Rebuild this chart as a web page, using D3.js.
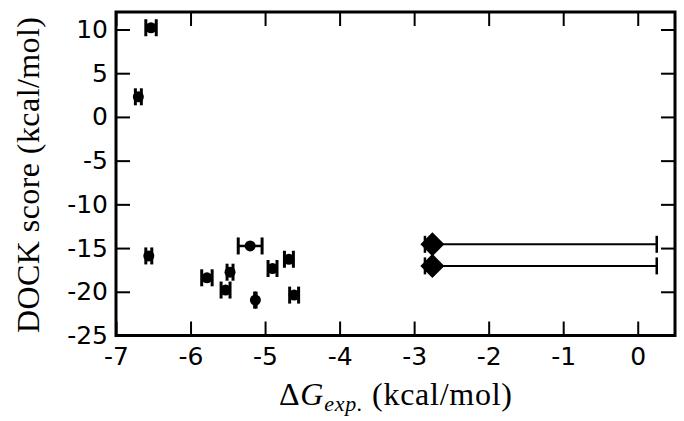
<!DOCTYPE html>
<html>
<head>
<meta charset="utf-8">
<script src="https://cdn.jsdelivr.net/npm/d3@7"></script>
<style>
  body { margin: 0; background: #fff; }
  .tick text { font-family: "DejaVu Sans", sans-serif; font-size: 25px; fill: #000; }
  .axisLabel { font-family: "Liberation Serif", serif; font-size: 32px; fill: #000; }
</style>
</head>
<body>
<div id="chart"></div>
<script>
// measured points (circles)
const expDG = [-6.53, -6.70, -6.56, -5.78, -5.47, -5.53, -5.20, -5.13, -4.90, -4.68, -4.61];
const dockScore = [10.2, 2.3, -15.9, -18.4, -17.76, -19.8, -14.76, -20.95, -17.34, -16.28, -20.38];
const expErr = [0.07, 0.04, 0.04, 0.07, 0.04, 0.06, 0.16, 0.01, 0.06, 0.06, 0.06];

// limit points (diamonds), asymmetric error
const limDG = [-2.755, -2.755];
const limScore = [-14.57, -17.04];
const limErrLo = [0.1, 0.1];
const limErrHi = [3.01, 3.01];

const xTicks = [-7, -6, -5, -4, -3, -2, -1, 0];
const yTicks = [10, 5, 0, -5, -10, -15, -20, -25];

let margin = { top: 12, left: 116, right: 9, bottom: 85.5 },
  width = 684 - margin.left - margin.right,
  height = 421 - margin.top - margin.bottom;

let svg = d3.select("#chart")
  .append("svg")
  .attr("width", 684)
  .attr("height", 421);

let g = svg.append("g")
  .attr("transform", "translate(" + margin.left + "," + margin.top + ")");

let xScale = d3.scaleLinear().domain([-7, 0.5]).range([0, width]);
let yScale = d3.scaleLinear().domain([-25, 12]).range([height, 0]);

// axes, ticks pointing inward on all sides
let xAxis = g.append("g")
  .attr("transform", "translate(0," + height + ")")
  .call(d3.axisBottom(xScale).tickValues(xTicks).tickSize(-14).tickPadding(12).tickFormat(d3.format("d")));
g.append("g")
  .call(d3.axisTop(xScale).tickValues(xTicks).tickSize(-14).tickFormat(""));
let yAxis = g.append("g")
  .call(d3.axisLeft(yScale).tickValues(yTicks).tickSize(-14).tickPadding(8).tickFormat(d3.format("d")));
g.append("g")
  .attr("transform", "translate(" + width + ",0)")
  .call(d3.axisRight(yScale).tickValues(yTicks).tickSize(-14).tickFormat(""));

g.selectAll(".domain").remove();
g.selectAll(".tick line").attr("stroke", "#000").attr("stroke-width", 2);
g.selectAll(".tick text").text(function () { return d3.select(this).text().replace("−", "-"); });

// frame
g.append("rect")
  .attr("width", width)
  .attr("height", height)
  .attr("fill", "none")
  .attr("stroke", "#000")
  .attr("stroke-width", 3);

// error bars
const capH = 8.5;
let pts = expDG.map((x, i) => ({ x: x, y: dockScore[i], lo: x - expErr[i], hi: x + expErr[i] }));
let lims = limDG.map((x, i) => ({ x: x, y: limScore[i], lo: x - limErrLo[i], hi: x + limErrHi[i] }));

function drawErr(data, lw) {
  let eg = g.append("g").attr("stroke", "#000");
  eg.selectAll(".bar").data(data).join("line")
    .attr("x1", d => xScale(d.lo)).attr("x2", d => xScale(d.hi))
    .attr("y1", d => yScale(d.y)).attr("y2", d => yScale(d.y))
    .attr("stroke-width", lw);
  eg.selectAll(".capL").data(data).join("line")
    .attr("x1", d => xScale(d.lo)).attr("x2", d => xScale(d.lo))
    .attr("y1", d => yScale(d.y) - capH).attr("y2", d => yScale(d.y) + capH)
    .attr("stroke-width", lw + 0.5);
  eg.selectAll(".capR").data(data).join("line")
    .attr("x1", d => xScale(d.hi)).attr("x2", d => xScale(d.hi))
    .attr("y1", d => yScale(d.y) - capH).attr("y2", d => yScale(d.y) + capH)
    .attr("stroke-width", lw + 0.5);
}
drawErr(pts, 2.5);
drawErr(lims, 2);

g.append("g").selectAll("circle").data(pts).join("circle")
  .attr("cx", d => xScale(d.x))
  .attr("cy", d => yScale(d.y))
  .attr("r", 5.5)
  .attr("fill", "#000");

g.append("g").selectAll("path").data(lims).join("path")
  .attr("transform", d => "translate(" + xScale(d.x) + "," + yScale(d.y) + ")")
  .attr("d", "M0,-12L12,0L0,12L-12,0Z")
  .attr("fill", "#000");

// axis labels
let xl = svg.append("text")
  .attr("class", "axisLabel")
  .attr("x", margin.left + width / 2)
  .attr("y", 405)
  .attr("text-anchor", "middle")
  .attr("textLength", 233)
  .attr("lengthAdjust", "spacing");
xl.append("tspan").text("Δ");
xl.append("tspan").attr("font-style", "italic").text("G");
xl.append("tspan").attr("font-style", "italic").attr("font-size", "22px").attr("dy", 6).text("exp.");
xl.append("tspan").attr("dy", -6).text(" (kcal/mol)");

svg.append("text")
  .attr("class", "axisLabel")
  .attr("transform", "translate(39," + (175) + ") rotate(-90)")
  .attr("text-anchor", "middle")
  .attr("textLength", 316)
  .attr("lengthAdjust", "spacing")
  .text("DOCK score (kcal/mol)");
</script>
</body>
</html>
